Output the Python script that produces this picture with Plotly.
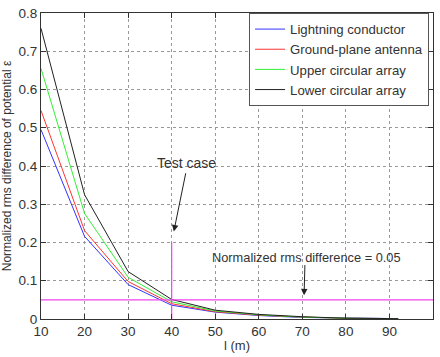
import plotly.graph_objects as go

l_m = [10, 20, 30, 40, 50, 60, 70, 80, 92]
lightning = [0.495, 0.216, 0.090, 0.036, 0.018, 0.009, 0.004, 0.002, 0.001]
ground = [0.545, 0.231, 0.098, 0.040, 0.019, 0.010, 0.005, 0.002, 0.001]
upper = [0.655, 0.276, 0.109, 0.045, 0.021, 0.011, 0.005, 0.002, 0.001]
lower = [0.760, 0.325, 0.124, 0.051, 0.023, 0.012, 0.006, 0.002, 0.001]

names = ["Lightning conductor", "Ground-plane antenna", "Upper circular array", "Lower circular array"]
colors = ["#3333ff", "#ff3333", "#33ee33", "#222222"]
series = [lightning, ground, upper, lower]

FONT = "Liberation Sans, Arial"

fig = go.Figure()
for n, c, s in zip(names, colors, series):
    fig.add_trace(go.Scatter(x=l_m, y=s, mode="lines", name=n, line=dict(color=c, width=1)))

fig.add_trace(go.Scatter(x=[10, 100], y=[0.05, 0.05], mode="lines", showlegend=False,
                         line=dict(color="#ee44ee", width=1.2)))
fig.add_trace(go.Scatter(x=[40, 40], y=[0, 0.2], mode="lines", showlegend=False,
                         line=dict(color="#ee44ee", width=1.2)))

fig.add_annotation(x=40.5, y=0.229, ax=43.3, ay=0.385, xref="x", yref="y", axref="x", ayref="y",
                   showarrow=True, arrowhead=2, arrowsize=1.3, arrowwidth=1, arrowcolor="#222", text="")
fig.add_annotation(x=43.5, y=0.409, text="Test case", showarrow=False,
                   font=dict(size=14, color="#333", family=FONT))
fig.add_annotation(x=70.4, y=0.062, ax=70.6, ay=0.145, xref="x", yref="y", axref="x", ayref="y",
                   showarrow=True, arrowhead=2, arrowsize=1.3, arrowwidth=1, arrowcolor="#222", text="")
fig.add_annotation(x=71.0, y=0.162, text="Normalized rms difference = 0.05", showarrow=False,
                   font=dict(size=12.8, color="#333", family=FONT))

axis_common = dict(showline=True, linecolor="#333", linewidth=1, mirror="ticks",
                   ticks="inside", ticklen=5, tickcolor="#333",
                   showgrid=True, gridcolor="#999", griddash="dot", gridwidth=1,
                   zeroline=False, tickfont=dict(size=13.5, color="#333", family=FONT))

fig.update_xaxes(range=[10, 100], dtick=10, tick0=10,
                 title=dict(text="l (m)", font=dict(size=13, color="#333"), standoff=2), **axis_common)
fig.update_yaxes(range=[0, 0.8], dtick=0.1, tickformat=".1~f",
                 title=dict(text="Normalized rms difference of potential ε", font=dict(size=12, color="#333"), standoff=4),
                 **axis_common)

fig.update_layout(width=440, height=357, margin=dict(l=39, r=6, t=8, b=38),
                  plot_bgcolor="white", paper_bgcolor="white",
                  font=dict(family=FONT, color="#333"),
                  legend=dict(x=0.99, y=1.0, xanchor="right", yanchor="top",
                              bgcolor="white", bordercolor="#555", borderwidth=1,
                              font=dict(size=13.2, color="#333"), tracegroupgap=0, itemwidth=30))

fig.write_html("out.html")
